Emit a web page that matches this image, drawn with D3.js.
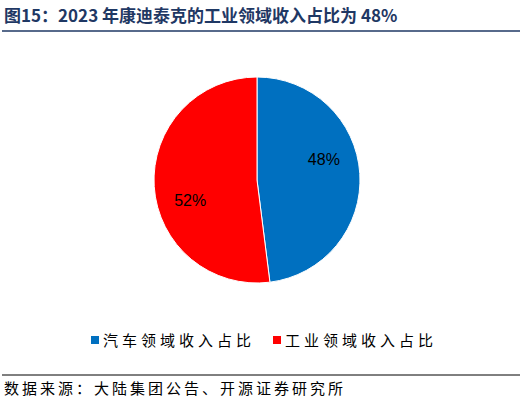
<!DOCTYPE html>
<html><head><meta charset="utf-8">
<script src="https://cdn.jsdelivr.net/npm/d3@7/dist/d3.min.js"></script>
<style>body{margin:0;background:#fff}</style></head>
<body><svg id="c" width="522" height="405"></svg>
<script>
const categories = ["汽车领域收入占比", "工业领域收入占比"];
const values = [48, 52];
const colors = ["#0070C0", "#FF0000"];
const title = "图15：2023 年康迪泰克的工业领域收入占比为 48%";
const source = "数据来源：大陆集团公告、开源证券研究所";

const svg = d3.select("#c");
svg.append("text").attr("x", 4).attr("y", 22).text(title)
  .attr("font-family", "Noto Sans CJK SC").attr("font-weight", "bold")
  .attr("font-size", 17).attr("fill", "#1F3864");
svg.append("line").attr("x1", 2).attr("x2", 520).attr("y1", 31).attr("y2", 31)
  .attr("stroke", "#1F3864").attr("stroke-width", 1.5);

const cx = 257, cy = 180, r = 103;
const pie = d3.pie().sort(null)(values);
const arc = d3.arc().innerRadius(0).outerRadius(r);
const g = svg.append("g").attr("transform", `translate(${cx},${cy})`);
g.selectAll("path").data(pie).join("path").attr("d", arc)
  .attr("fill", (d, i) => colors[i]).attr("stroke", "#fff").attr("stroke-width", 1);
const la = d3.arc().innerRadius(r * 0.68).outerRadius(r * 0.68);
g.selectAll("text").data(pie).join("text")
  .attr("transform", d => { const a = (d.startAngle + d.endAngle) / 2 - 0.24; const rr = r * 0.68;
    return `translate(${Math.sin(a) * rr},${-Math.cos(a) * rr})`; })
  .attr("text-anchor", "middle").attr("dy", "0.35em")
  .attr("font-family", "Liberation Sans, Arial").attr("font-size", 16).attr("fill", "#000")
  .text(d => d.data + "%");

const lg = svg.append("g");
const lx = [91, 273];
categories.forEach((c, i) => {
  lg.append("rect").attr("x", lx[i]).attr("y", 336).attr("width", 8).attr("height", 8).attr("fill", colors[i]);
  lg.append("text").attr("x", lx[i] + 12).attr("y", 346).text(c)
    .attr("font-family", "Noto Sans CJK SC").attr("font-size", 15).attr("letter-spacing", 4).attr("fill", "#000");
});

svg.append("line").attr("x1", 2).attr("x2", 520).attr("y1", 375).attr("y2", 375)
  .attr("stroke", "#000").attr("stroke-width", 1);
svg.append("text").attr("x", 4).attr("y", 394).text(source)
  .attr("font-family", "Noto Sans CJK SC").attr("font-size", 15).attr("letter-spacing", 3).attr("fill", "#000");
</script></body></html>
